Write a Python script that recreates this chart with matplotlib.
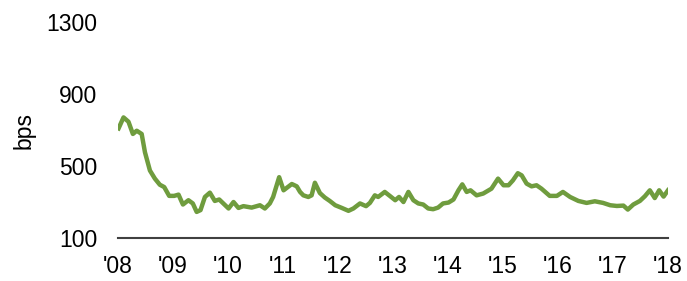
import matplotlib
matplotlib.use("Agg")
import matplotlib.pyplot as plt

years = [2008.01, 2008.10, 2008.19, 2008.27, 2008.34, 2008.43, 2008.49, 2008.58, 2008.67, 2008.76,
         2008.84, 2008.93, 2009.02, 2009.10, 2009.18, 2009.28, 2009.36, 2009.43, 2009.50, 2009.58,
         2009.67, 2009.76, 2009.84, 2010.01, 2010.10, 2010.19, 2010.28, 2010.43, 2010.58, 2010.67,
         2010.76, 2010.82, 2010.93, 2011.01, 2011.16, 2011.25, 2011.31, 2011.37, 2011.46, 2011.52,
         2011.58, 2011.67, 2011.76, 2011.85, 2011.95, 2012.07, 2012.19, 2012.28, 2012.40, 2012.51,
         2012.58, 2012.67, 2012.73, 2012.85, 2012.95, 2013.04, 2013.11, 2013.19, 2013.28, 2013.37,
         2013.46, 2013.55, 2013.64, 2013.73, 2013.82, 2013.91, 2014.01, 2014.10, 2014.19, 2014.26,
         2014.34, 2014.41, 2014.52, 2014.64, 2014.79, 2014.91, 2015.01, 2015.10, 2015.18, 2015.27,
         2015.34, 2015.43, 2015.52, 2015.61, 2015.70, 2015.85, 2015.98, 2016.09, 2016.22, 2016.37,
         2016.52, 2016.67, 2016.82, 2016.95, 2017.07, 2017.19, 2017.27, 2017.37, 2017.49, 2017.58,
         2017.67, 2017.76, 2017.84, 2017.92, 2018.00]
spread_bps = [709, 770, 746, 678, 696, 678, 576, 475, 430, 396,
              383, 334, 334, 341, 286, 310, 292, 245, 255, 328,
              352, 306, 314, 264, 300, 267, 277, 269, 282, 264,
              292, 328, 438, 365, 400, 387, 356, 337, 328, 337,
              407, 350, 325, 306, 282, 267, 251, 264, 292, 277,
              295, 337, 328, 356, 332, 310, 328, 300, 356, 310,
              292, 286, 264, 260, 269, 292, 297, 314, 365, 398,
              356, 365, 337, 347, 374, 430, 393, 393, 420, 460,
              448, 402, 387, 393, 374, 334, 334, 356, 328, 306,
              295, 304, 295, 282, 278, 280, 258, 286, 306, 332,
              365, 322, 365, 330, 365]

tick_years = list(range(2008, 2019))
tick_labels = ["'08", "'09", "'10", "'11", "'12", "'13", "'14", "'15", "'16", "'17", "'18"]
y_ticks = [100, 500, 900, 1300]

plt.rcParams['font.family'] = ['Liberation Sans', 'DejaVu Sans']

fig = plt.figure(figsize=(6.87, 2.81), dpi=100)
ax = fig.add_axes([0.1718, 0.153, 0.8005, 0.7687])
ax.plot(years, spread_bps, color='#6F9C3E', lw=3.2, solid_joinstyle='round')
ax.set_xlim(2008, 2018)
ax.set_ylim(100, 1300)
ax.set_yticks(y_ticks)
ax.set_xticks(tick_years)
ax.set_xticklabels(tick_labels)
ax.tick_params(axis='both', length=0, labelsize=16.5, colors='#000000')
ax.tick_params(axis='y', pad=15)
ax.tick_params(axis='x', pad=12)
for s in ['top', 'right', 'left']:
    ax.spines[s].set_visible(False)
ax.spines['bottom'].set_color('#404040')
ax.spines['bottom'].set_linewidth(1.5)
ax.set_ylabel('bps', fontsize=16.5, labelpad=8)
fig.savefig('out.png', dpi=100)
